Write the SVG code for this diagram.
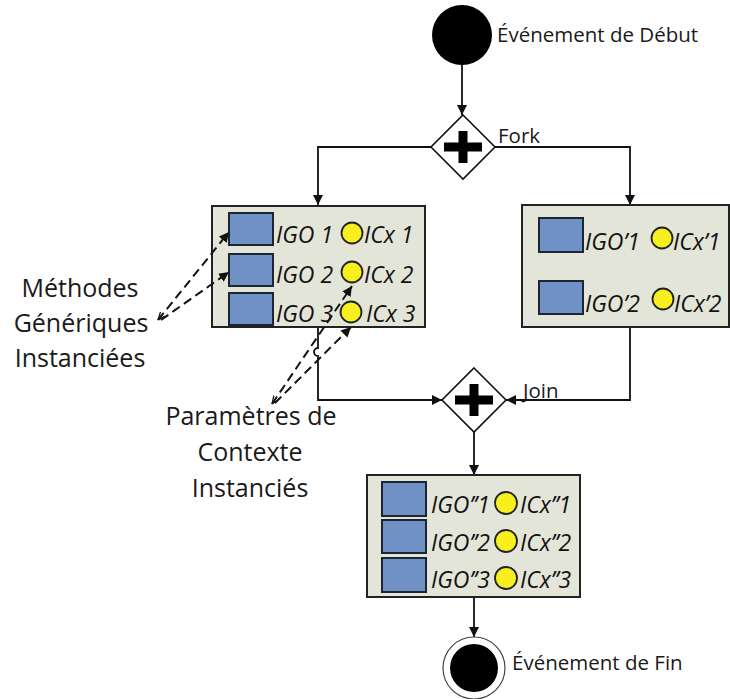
<svg xmlns="http://www.w3.org/2000/svg" width="730" height="699" viewBox="0 0 730 699">
<style>
.lbl{font-family:"Open Sans","Liberation Sans",sans-serif;fill:#1a1a1a}
.big{font-size:25px}
.ev{font-size:20.5px}
.it{font-family:"Open Sans","Liberation Sans",sans-serif;font-style:italic;font-size:23px;fill:#111}
.box{fill:#e4e5d9;stroke:#222;stroke-width:2}
.sq{fill:#6f91c6;stroke:#1c2633;stroke-width:2}
.cx{fill:#f7ef1e;stroke:#222;stroke-width:1.8}
.gw{fill:#fff;stroke:#111;stroke-width:1.6}
.conn{fill:none;stroke:#111;stroke-width:1.8}
.dash{fill:none;stroke:#111;stroke-width:2;stroke-dasharray:9 5}
</style>
<defs>
<marker id="ah" viewBox="0 0 10 10" refX="10" refY="5" markerWidth="10" markerHeight="10" markerUnits="userSpaceOnUse" orient="auto">
<path d="M0,0 L10,5 L0,10 z" fill="#111"/>
</marker>
<marker id="ah2" viewBox="0 0 10 10" refX="10" refY="5" markerWidth="10" markerHeight="10" markerUnits="userSpaceOnUse" orient="auto">
<path d="M0,0 L10,5 L0,10 z" fill="#111"/>
</marker>
<marker id="tail" viewBox="0 0 10 10" refX="0" refY="5" markerWidth="8" markerHeight="8" markerUnits="userSpaceOnUse" orient="auto">
<path d="M10,1 L0,5 L10,9" fill="none" stroke="#111" stroke-width="1.6"/>
</marker>
</defs>

<g id="connectors">
<path class="conn" d="M462,65 V115" marker-end="url(#ah)"/>
<path class="conn" d="M431,147 H318 V205" marker-end="url(#ah)"/>
<path class="conn" d="M495,147 H630 V205" marker-end="url(#ah)"/>
<path class="conn" d="M318,327 V348 A4,4 0 0 0 318,356 V400 H442" marker-end="url(#ah)"/>
<path class="conn" d="M630,327 V400 H506" marker-end="url(#ah)"/>
<path class="conn" d="M474,432 V475" marker-end="url(#ah)"/>
<path class="conn" d="M474,597 V637" marker-end="url(#ah)"/>
</g>

<g id="start">
<circle cx="462" cy="35" r="30" fill="#000"/>
<text class="lbl ev" x="497" y="42">Événement de Début</text>
</g>

<g id="fork">
<path class="gw" d="M463,115 L495,147 L463,179 L431,147 z"/>
<path d="M444,142.5 H482 V151.5 H444 z M458.5,131 H467.5 V163 H458.5 z" fill="#000"/>
<text class="lbl ev" x="498" y="143">Fork</text>
</g>

<g id="box-left">
<rect class="box" x="212" y="206" width="213" height="121"/>
<rect class="sq" x="229" y="213" width="44" height="32"/>
<rect class="sq" x="229" y="254" width="44" height="32"/>
<rect class="sq" x="229" y="293" width="44" height="32"/>
<text class="it" x="276" y="243">IGO 1</text>
<text class="it" x="276" y="283">IGO 2</text>
<text class="it" x="276" y="322">IGO 3</text>
<circle class="cx" cx="352" cy="233" r="10.5"/>
<circle class="cx" cx="352" cy="272" r="10.5"/>
<circle class="cx" cx="351" cy="312" r="10.5"/>
<text class="it" x="364" y="243">ICx 1</text>
<text class="it" x="364" y="283">ICx 2</text>
<text class="it" x="366" y="322">ICx 3</text>
</g>

<g id="box-right">
<rect class="box" x="522" y="205" width="207" height="122"/>
<rect class="sq" x="539" y="218" width="44" height="34"/>
<rect class="sq" x="539" y="281" width="44" height="33"/>
<text class="it" x="585" y="250">IGO’1</text>
<text class="it" x="585" y="312">IGO’2</text>
<circle class="cx" cx="662" cy="238" r="10.5"/>
<circle class="cx" cx="663" cy="299" r="10.5"/>
<text class="it" x="673" y="250">ICx’1</text>
<text class="it" x="674" y="312">ICx’2</text>
</g>

<g id="join">
<path class="gw" d="M474,368 L506,400 L474,432 L442,400 z"/>
<path d="M455,395.5 H493 V404.5 H455 z M469.5,384 H478.5 V416 H469.5 z" fill="#000"/>
<text class="lbl ev" x="523" y="398">Join</text>
</g>

<g id="box-bottom">
<rect class="box" x="367" y="475" width="213" height="122"/>
<rect class="sq" x="382" y="482" width="44" height="34"/>
<rect class="sq" x="382" y="520" width="44" height="33"/>
<rect class="sq" x="382" y="558" width="44" height="34"/>
<text class="it" x="431" y="513">IGO’’1</text>
<text class="it" x="431" y="551">IGO’’2</text>
<text class="it" x="431" y="588">IGO’’3</text>
<circle class="cx" cx="506" cy="503" r="11"/>
<circle class="cx" cx="506" cy="541" r="11"/>
<circle class="cx" cx="506" cy="578" r="11"/>
<text class="it" x="520" y="513">ICx’’1</text>
<text class="it" x="520" y="551">ICx’’2</text>
<text class="it" x="520" y="588">ICx’’3</text>
</g>

<g id="end">
<circle cx="474" cy="668" r="31" fill="#fff" stroke="#444" stroke-width="1.2"/>
<circle cx="474" cy="668" r="24" fill="#000"/>
<text class="lbl ev" x="512" y="670">Événement de Fin</text>
</g>

<g id="label-methodes">
<text class="lbl big" text-anchor="middle" x="80" y="297">Méthodes</text>
<text class="lbl big" text-anchor="middle" x="81" y="332">Génériques</text>
<text class="lbl big" text-anchor="middle" x="80" y="367">Instanciées</text>
</g>

<g id="label-parametres">
<text class="lbl big" text-anchor="middle" x="251" y="425">Paramètres de</text>
<text class="lbl big" text-anchor="middle" x="250" y="461">Contexte</text>
<text class="lbl big" text-anchor="middle" x="250" y="497">Instanciés</text>
</g>

<g id="dashed-connectors">
<path class="dash" d="M158,320 L229,232" marker-start="url(#tail)" marker-end="url(#ah2)"/>
<path class="dash" d="M161,320 L229,272" marker-end="url(#ah2)"/>
<path class="dash" d="M272,404 L352,286" marker-start="url(#tail)" marker-end="url(#ah2)"/>
<path class="dash" d="M275,403 L351,327" marker-end="url(#ah2)"/>
</g>
</svg>
